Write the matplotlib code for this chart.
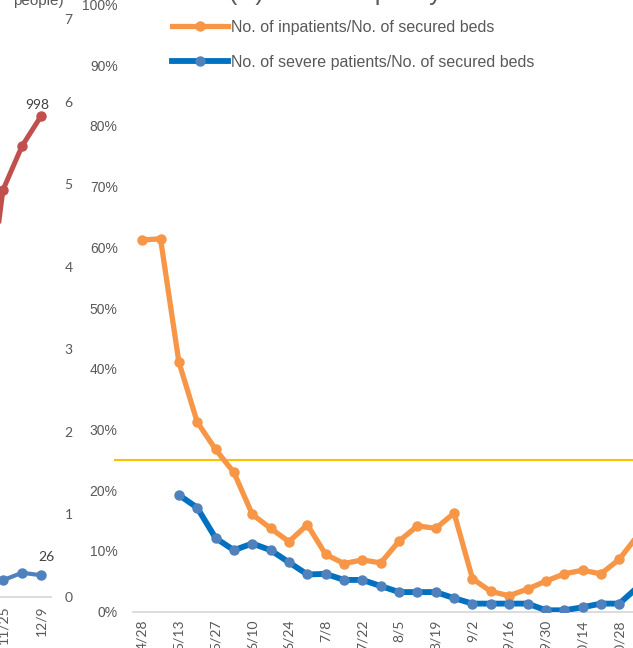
import numpy as np
import matplotlib
matplotlib.use("Agg")
import matplotlib.pyplot as plt
from matplotlib.ticker import PercentFormatter, FuncFormatter
import matplotlib.transforms as mtransforms

plt.rcParams['font.family'] = ['Liberation Sans', 'DejaVu Sans']

# (C) bed occupancy rate, weekly
weeks = ['4/28', '5/6', '5/13', '5/20', '5/27', '6/3', '6/10', '6/17', '6/24', '7/1',
         '7/8', '7/15', '7/22', '7/29', '8/5', '8/12', '8/19', '8/26', '9/2', '9/9',
         '9/16', '9/23', '9/30', '10/7', '10/14', '10/21', '10/28', '11/4']
inpatient_rate = [61.2, 61.4, 41.1, 31.2, 26.7, 22.9, 16.0, 13.7, 11.5, 14.3,
                  9.4, 7.9, 8.5, 8.0, 11.6, 14.1, 13.7, 16.2, 5.4, 3.3,
                  2.6, 3.7, 5.0, 6.2, 6.8, 6.2, 8.6, 12.5]
severe_rate = [np.nan, np.nan, 19.2, 17.1, 12.1, 10.1, 11.2, 10.1, 8.1, 6.1,
               6.2, 5.2, 5.2, 4.2, 3.2, 3.2, 3.2, 2.2, 1.3, 1.3,
               1.3, 1.3, 0.2, 0.2, 0.7, 1.3, 1.3, 4.0]
threshold = 25  # %

# tail of the neighbouring panel (counts of people)
prev_weeks = ['11/18', '11/25', '12/2', '12/9']
patients = [540, 845, 936, 998]
severe = [18, 20, 29, 26]

W, H = 633, 648
GREY = '#595959'


def box(x0, y0, x1, y1):
    # pixel box, top-left origin -> figure fraction rect
    return [x0 / W, 1 - y1 / H, (x1 - x0) / W, (y1 - y0) / H]


fig = plt.figure(figsize=(W / 100, H / 100), dpi=100)

# ---- left panel (only its right end is in view) ----
axl = fig.add_axes(box(-25.5, 19, 50.5, 596.7))
xl = np.arange(len(prev_weeks))
axl.plot(xl, patients, color='#C0504D', lw=3.6, marker='o', ms=6.5, zorder=3)
axl.set_xlim(-0.5, 3.5)
axl.set_ylim(0, 1200)
axl.set_yticks([])
for s in ['top', 'left', 'right']:
    axl.spines[s].set_visible(False)
axl.spines['bottom'].set_color('#D9D9D9')
axl.spines['bottom'].set_linewidth(1.3)
axl.set_xticks(xl[1::2])
axl.set_xticklabels(prev_weeks[1::2], rotation=90, family='Lato', fontsize=10, color=GREY)
axl.tick_params(axis='x', length=0, pad=6)
axl.annotate(str(patients[-1]), (xl[-1], patients[-1]), xytext=(-4, 5),
             textcoords='offset pixels', ha='center', va='bottom',
             family='Lato', fontsize=10, color='#404040')

axl2 = axl.twinx()
axl2.plot(xl, severe, color='#4F81BD', lw=3, marker='o', ms=6.5, zorder=3)
axl2.set_ylim(0, 700)
axl2.set_yticks(np.arange(0, 701, 100))
axl2.yaxis.set_major_formatter(FuncFormatter(lambda v, p: f'{v / 100:.0f}'))
axl2.tick_params(axis='y', length=0, pad=10, labelsize=10, labelcolor=GREY)
for lab in axl2.get_yticklabels():
    lab.set_family('Lato')
for s in axl2.spines.values():
    s.set_visible(False)
axl2.annotate(str(severe[-1]), (xl[-1], severe[-1]), xytext=(5, 12),
              textcoords='offset pixels', ha='center', va='bottom',
              family='Lato', fontsize=10, color='#404040')
fig.text(38 / W, 1 - 5 / H, '(Unit: 100\npeople)', ha='center', va='baseline',
         multialignment='center', fontsize=11, color=GREY)

# ---- (C) bed occupancy rate ----
ax = fig.add_axes(box(133, 4.5, 133 + 29 * 18.35, 611.5))
x = np.arange(len(weeks))
l1, = ax.plot(x, inpatient_rate, color='#F79646', lw=3.8, marker='o', ms=6.5,
              solid_joinstyle='round', zorder=3)
l2, = ax.plot(x, severe_rate, color='#0070C0', lw=4.2, marker='o', ms=6.5,
              mfc='#4F81BD', mec='#4F81BD', solid_joinstyle='round', zorder=3)

trans = mtransforms.blended_transform_factory(ax.transAxes, ax.transData)
ax.plot([-18 / 532, 1.0], [threshold, threshold], color='#FFC000', lw=1.5,
        transform=trans, clip_on=False, zorder=2)

ax.set_xlim(-0.5, 28.5)
ax.set_ylim(0, 100)
ax.set_yticks(np.arange(0, 101, 10))
ax.yaxis.set_major_formatter(PercentFormatter(100, decimals=0))
ax.tick_params(axis='y', length=0, pad=11, labelsize=10, labelcolor=GREY)
ax.set_xticks(x[::2])
ax.set_xticklabels(weeks[::2], rotation=90, family='Lato', fontsize=10, color=GREY)
ax.tick_params(axis='x', length=0, pad=6)
for s in ['top', 'left', 'right']:
    ax.spines[s].set_visible(False)
ax.spines['bottom'].set_color('#D9D9D9')
ax.spines['bottom'].set_linewidth(1.3)

fig.legend([l1, l2],
           ['No. of inpatients/No. of secured beds',
            'No. of severe patients/No. of secured beds'],
           loc='upper left', bbox_to_anchor=(172 / W, 1 - 20 / H),
           frameon=False, fontsize=11.5, handlelength=3.5, handletextpad=0.2,
           labelspacing=1.25, borderpad=0, borderaxespad=0, labelcolor=GREY)

fig.text(360 / W, 1 - 5 / H, '(C) Bed occupancy rate', ha='center', va='bottom',
         fontsize=18, color=GREY)

fig.savefig('out.png', dpi=100)
